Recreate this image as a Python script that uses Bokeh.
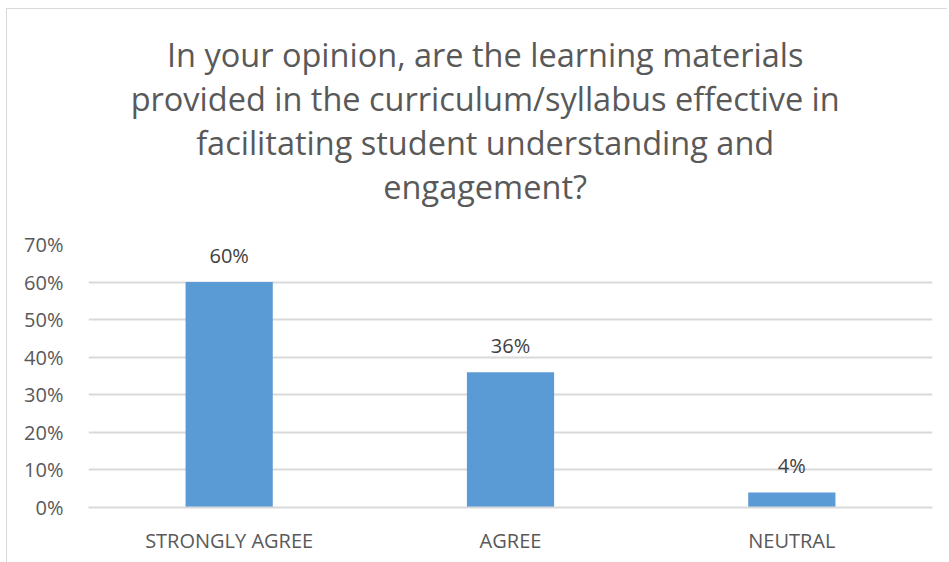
from bokeh.plotting import figure
from bokeh.models import Range1d, NumeralTickFormatter, Title, ColumnDataSource, FixedTicker
from bokeh.core.properties import value
from bokeh.embed import file_html
from bokeh.resources import INLINE

categories = ["STRONGLY AGREE", "AGREE", "NEUTRAL"]
values = [0.60, 0.36, 0.04]
labels = ["60%", "36%", "4%"]
title_lines = [
    "In your opinion, are the learning materials",
    "provided in the curriculum/syllabus effective in",
    "facilitating student understanding and",
    "engagement?",
]
y_ticks = [0, 0.1, 0.2, 0.3, 0.4, 0.5, 0.6, 0.7]

FONT = "Open Sans"
src = ColumnDataSource(dict(cat=categories, val=values, lab=labels))

p = figure(x_range=categories, y_range=Range1d(0, 0.7), width=941, height=554,
           output_backend="svg", toolbar_location=None,
           min_border_left=81, min_border_right=16, min_border_top=235, min_border_bottom=56)
p.styles = {"border-left": "1px solid #d9d9d9", "border-top": "1px solid #d9d9d9",
            "margin-left": "6px", "margin-top": "8px"}
p.outline_line_color = None

p.vbar(x="cat", top="val", width=0.31, source=src, fill_color="#5b9bd5", line_color=None)
p.text(x="cat", y="val", text="lab", source=src, text_align="center", text_baseline="bottom",
       y_offset=-13, text_font_size="20px", text_color="#404040", text_font=value(FONT))

# title: centred on the whole chart, so pad each line on the right with no-break spaces
PAD = "\u00a0" * 6
p.title = None
p.add_layout(Title(text=" ", text_font_size="1px", standoff=34), "above")
for line in reversed(title_lines):
    p.add_layout(Title(text=line + PAD, align="center", text_font=FONT, text_font_size="32.5px",
                       text_font_style="normal", text_color="#595959",
                       text_line_height=0.95, standoff=-3), "above")

p.yaxis.ticker = FixedTicker(ticks=y_ticks)
p.yaxis.formatter = NumeralTickFormatter(format="0%")
p.yaxis.axis_line_color = None
p.yaxis.major_tick_line_color = None
p.yaxis.minor_tick_line_color = None
p.yaxis.major_label_text_font = FONT
p.yaxis.major_label_text_font_size = "20px"
p.yaxis.major_label_text_color = "#595959"
p.yaxis.major_label_standoff = 19

p.xaxis.axis_line_color = "#d9d9d9"
p.xaxis.axis_line_width = 2
p.xaxis.major_tick_line_color = None
p.xaxis.minor_tick_line_color = None
p.xaxis.major_label_text_font = FONT
p.xaxis.major_label_text_font_size = "20px"
p.xaxis.major_label_text_color = "#595959"
p.xaxis.major_label_standoff = 13

p.xgrid.grid_line_color = None
p.ygrid.grid_line_color = "#d9d9d9"
p.ygrid.grid_line_width = 2

open("out.html", "w").write(file_html(p, INLINE))
